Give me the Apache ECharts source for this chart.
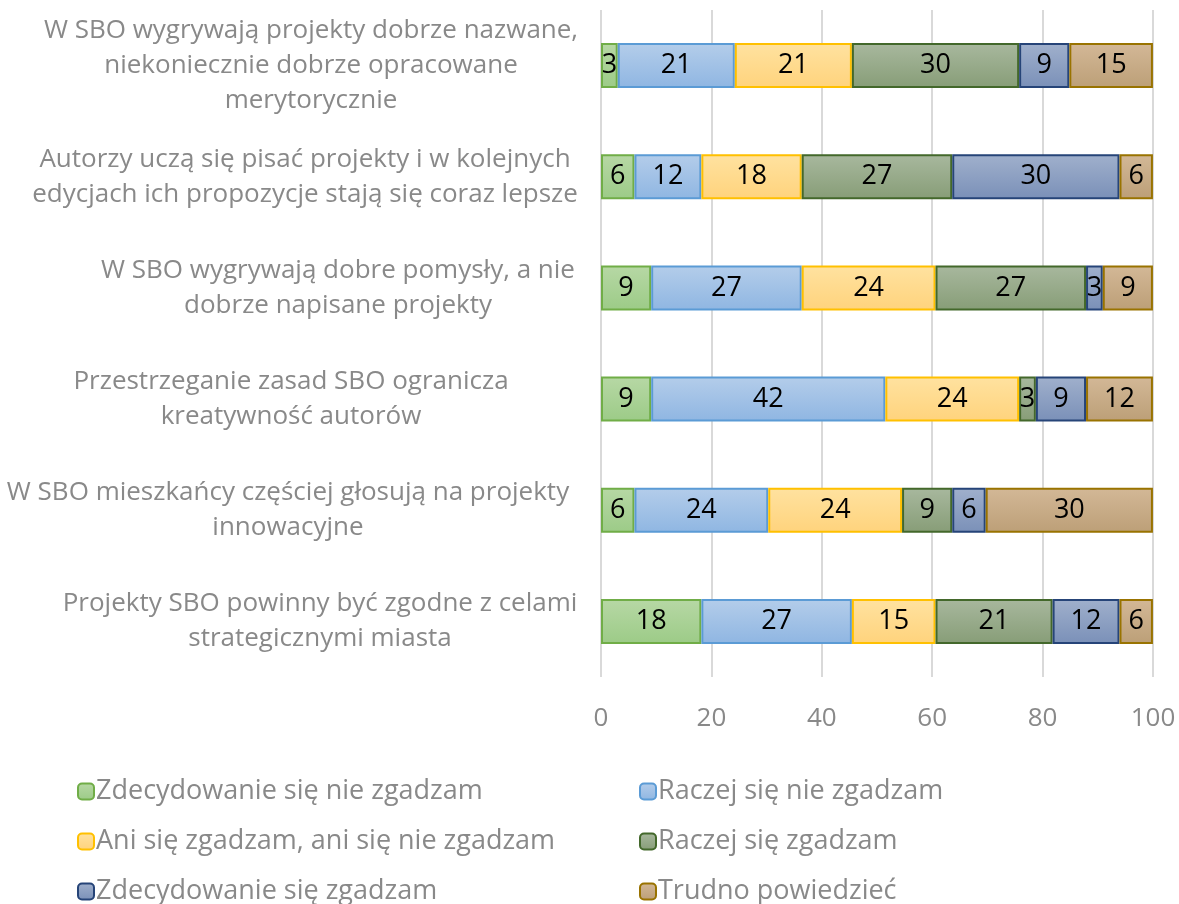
<!DOCTYPE html>
<html>
<head>
<meta charset="utf-8">
<script src="https://cdn.jsdelivr.net/npm/echarts@6/dist/echarts.min.js"></script>
<style>
  html, body { margin: 0; padding: 0; background: #fff; }
  #chart { width: 1179px; height: 904px; }
</style>
</head>
<body>
<div id="chart"></div>
<script>
"use strict"

// statements, top to bottom
const categories = [
  "W SBO wygrywają projekty dobrze nazwane,\nniekoniecznie dobrze opracowane\nmerytorycznie",
  "Autorzy uczą się pisać projekty i w kolejnych\nedycjach ich propozycje stają się coraz lepsze",
  "W SBO wygrywają dobre pomysły, a nie\ndobrze napisane projekty",
  "Przestrzeganie zasad SBO ogranicza\nkreatywność autorów",
  "W SBO mieszkańcy częściej głosują na projekty\ninnowacyjne",
  "Projekty SBO powinny być zgodne z celami\nstrategicznymi miasta"
];

const seriesNames = [
  "Zdecydowanie się nie zgadzam",
  "Raczej się nie zgadzam",
  "Ani się zgadzam, ani się nie zgadzam",
  "Raczej się zgadzam",
  "Zdecydowanie się zgadzam",
  "Trudno powiedzieć"
];

// percent per statement (labels show rounded values)
const stronglyDisagree = [3.03, 6.06, 9.09, 9.09, 6.06, 18.18];
const ratherDisagree   = [21.21, 12.12, 27.27, 42.42, 24.24, 27.27];
const neutral          = [21.21, 18.18, 24.24, 24.24, 24.24, 15.15];
const ratherAgree      = [30.30, 27.27, 27.27, 3.03, 9.09, 21.21];
const stronglyAgree    = [9.09, 30.30, 3.03, 9.09, 6.06, 12.12];
const hardToSay        = [15.15, 6.06, 9.09, 12.12, 30.30, 6.06];

const xTicks = [0, 20, 40, 60, 80, 100];

const seriesValues = [stronglyDisagree, ratherDisagree, neutral, ratherAgree, stronglyAgree, hardToSay];

// fill top, fill bottom, border
const palette = [
  ["#b7d8a5", "#9ccb87", "#70ad47"],
  ["#b4cdea", "#8fb6e2", "#5b9bd5"],
  ["#ffe2a0", "#ffd37c", "#ffc000"],
  ["#a8b89e", "#879d77", "#43682b"],
  ["#a0b0cc", "#7a90b8", "#264478"],
  ["#d3b897", "#bc9f77", "#997300"]
];

const FONT = "'Open Sans', sans-serif";
const GREY = "#898989";

// the category labels are not all centred on one x in the original
const labelShift = [0, 6, -27, 20, 23, -9];

const gradient = (top, bottom) => new echarts.graphic.LinearGradient(0, 0, 0, 1, [
  { offset: 0, color: top },
  { offset: 1, color: bottom }
]);

const series = seriesNames.map((name, i) => ({
  name: name,
  type: "bar",
  stack: "total",
  barWidth: 45,
  data: seriesValues[i],
  itemStyle: {
    color: gradient(palette[i][0], palette[i][1]),
    borderColor: palette[i][2],
    borderWidth: 2
  },
  label: {
    show: true,
    position: "inside",
    color: "#000",
    fontFamily: FONT,
    fontSize: 27,
    formatter: (p) => Math.round(p.value)
  }
}));

const rich = {};
labelShift.forEach((d, i) => {
  rich["r" + i] = {
    color: GREY,
    fontFamily: FONT,
    fontSize: 26,
    lineHeight: 35,
    padding: d >= 0 ? [0, 2 * d, 0, 0] : [0, 0, 0, -2 * d]
  };
});

// one legend per entry so the two columns line up like the original
const legendCols = [72, 634];
const legendRows = [773, 823, 873];
const legends = seriesNames.map((name, i) => ({
  left: legendCols[i % 2],
  top: legendRows[Math.floor(i / 2)],
  itemWidth: 16,
  itemHeight: 16,
  itemGap: 0,
  textStyle: { color: GREY, fontFamily: FONT, fontSize: 27, padding: [0, 0, 0, -3] },
  data: [{ name: name }]
}));

const chart = echarts.init(document.getElementById("chart"), null, { renderer: "canvas" });

chart.setOption({
  animation: false,
  grid: { left: 601, right: 26, top: 10, bottom: 227 },
  xAxis: {
    type: "value",
    min: xTicks[0],
    max: xTicks[xTicks.length - 1],
    interval: 20,
    axisLine: { show: false },
    axisTick: { show: false },
    splitLine: { show: true, lineStyle: { color: "#d9d9d9", width: 2 } },
    axisLabel: { color: GREY, fontFamily: FONT, fontSize: 26, margin: 29 }
  },
  yAxis: {
    type: "category",
    inverse: true,
    data: categories,
    axisLine: { show: false },
    axisTick: { show: false },
    axisLabel: {
      color: GREY,
      fontFamily: FONT,
      fontSize: 26,
      lineHeight: 35,
      align: "center",
      margin: 290,
      formatter: (value, index) => value.split("\n").map((line) => "{r" + index + "|" + line + "}").join("\n"),
      rich: rich
    }
  },
  legend: legends,
  series: series
});
</script>
</body>
</html>
